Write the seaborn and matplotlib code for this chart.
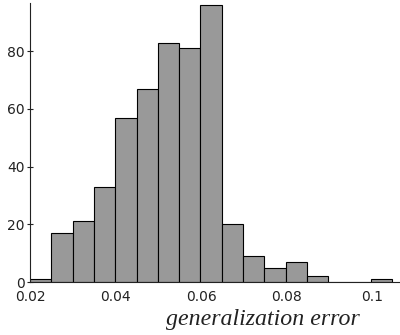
import numpy as np
import pandas as pd
import matplotlib
matplotlib.use('Agg')
import matplotlib.pyplot as plt
import seaborn as sns

# histogram counts (17 bins from 0.02 to ~0.1046)
bin_counts = [1, 17, 21, 33, 57, 67, 83, 81, 96, 20, 9, 5, 7, 2, 0, 0, 1]
bin_start = 0.02
bin_stop = 0.1046
x_ticks = [0.02, 0.04, 0.06, 0.08, 0.1]
x_tick_labels = ['0.02', '0.04', '0.06', '0.08', '0.1']
y_ticks = [0, 20, 40, 60, 80]
x_label = 'generalization error'

sns.set_style('white')
plt.rcParams['font.family'] = ['DejaVu Sans']

edges = np.linspace(bin_start, bin_stop, len(bin_counts) + 1)
df = pd.DataFrame({'err': (edges[:-1] + edges[1:]) / 2, 'count': bin_counts})

fig = plt.figure(figsize=(4, 3.35), dpi=100)
ax = fig.add_axes([30 / 400, 1 - 282 / 335, 370 / 400, 279 / 335])

sns.histplot(data=df, x='err', weights='count', bins=list(edges), ax=ax,
             color='#999999', alpha=1, edgecolor='black', linewidth=0.8)

ax.set_xlim(0.02, 0.1064)
ax.set_ylim(0, 96.7)
ax.set_xticks(x_ticks)
ax.set_xticklabels(x_tick_labels)
ax.set_yticks(y_ticks)
ax.set_xlabel('')
ax.set_ylabel('')
ax.tick_params(axis='x', length=0, pad=6, labelsize=10, colors='#222222')
ax.tick_params(axis='y', direction='inout', length=4, width=0.8, pad=2,
               labelsize=10, colors='#222222', left=True)
for side in ['top', 'right']:
    ax.spines[side].set_visible(False)
for side in ['left', 'bottom']:
    ax.spines[side].set_color('#222222')
    ax.spines[side].set_linewidth(0.8)

fig.text(262.5 / 400, 1 - 325.5 / 335, x_label, ha='center', va='baseline',
         fontsize=17.2, fontstyle='italic', family='Liberation Serif',
         color='#222222')

fig.savefig('out.png', dpi=100)
